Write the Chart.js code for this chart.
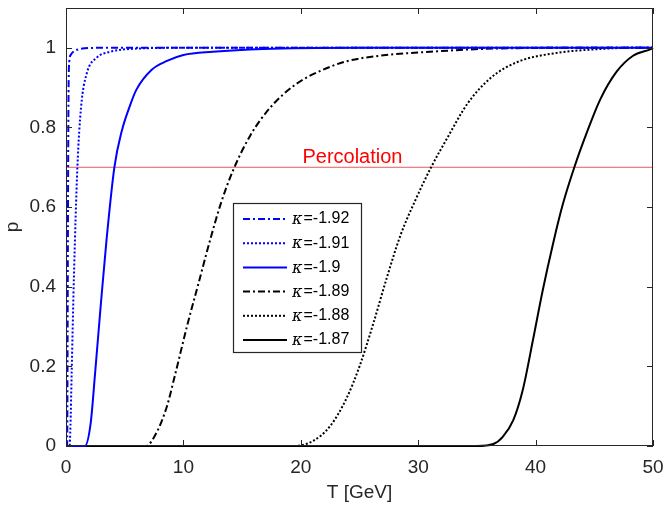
<!DOCTYPE html>
<html>
<head>
<meta charset="utf-8">
<title>Percolation probability</title>
<script src="https://cdn.jsdelivr.net/npm/chart.js@4.4.0/dist/chart.umd.min.js"></script>
<style>
  html, body { margin: 0; padding: 0; background: #ffffff; }
  canvas { display: block; }
</style>
</head>
<body>
<canvas id="percChart" width="667" height="510"></canvas>
<script>
// ── Data ─────────────────────────────────────────────

const kappaLabels = ['-1.92', '-1.91', '-1.9', '-1.89', '-1.88', '-1.87'];

const tK192 = [0, 0.1, 0.13, 0.16, 0.19, 0.22, 0.28, 0.4, 0.62, 1.2, 3, 50];
const pK192 = [0, 0, 0.2, 0.5, 0.75, 0.9, 0.965, 0.982, 0.99, 0.997, 1, 1];

const tK191 = [0, 0.3, 0.38, 0.48, 0.68, 0.97, 1.28, 1.76, 2.6, 3.75, 6, 10, 50];
const pK191 = [0, 0, 0.05, 0.18, 0.43, 0.70, 0.85, 0.935, 0.975, 0.99, 0.998, 1, 1];

const tK190 = [0, 1.6, 2.1, 2.47, 2.95, 3.46, 4.12, 4.74, 5.45, 6.0, 7.3, 8.6, 10, 12.5, 16.8, 25, 50];
const pK190 = [0, 0, 0.057, 0.18, 0.35, 0.52, 0.70, 0.79, 0.855, 0.895, 0.945, 0.967, 0.982, 0.99, 0.997, 1, 1];

const tK189 = [0, 6.8, 7.7, 8.6, 9.3, 10.3, 11.3, 12.3, 13.2, 14.2, 15.7, 17.4, 19.65, 21.9, 24, 26.7, 31, 35.3, 42, 50];
const pK189 = [0, 0, 0.033, 0.1, 0.18, 0.30, 0.41, 0.52, 0.61, 0.69, 0.78, 0.85, 0.91, 0.945, 0.967, 0.98, 0.99, 0.997, 1, 1];

const tK188 = [0, 19.3, 21, 22.5, 23.9, 25, 26.2, 27.3, 28.5, 29.8, 31.1, 32.6, 34.2, 36.2, 38.5, 42, 45, 48, 50];
const pK188 = [0, 0, 0.012, 0.05, 0.12, 0.2, 0.31, 0.42, 0.53, 0.62, 0.70, 0.78, 0.86, 0.925, 0.965, 0.988, 0.996, 1, 1];

const tK187 = [0, 35, 36.4, 37.2, 38.1, 38.9, 39.8, 40.6, 41.5, 42.3, 43.3, 44.4, 45.5, 46.9, 48.3, 49.9, 50];
const pK187 = [0, 0, 0.005, 0.023, 0.065, 0.14, 0.27, 0.39, 0.51, 0.605, 0.70, 0.79, 0.87, 0.94, 0.98, 0.998, 1];

const percolationLevel = 0.7;
const percolationText = 'Percolation';
const percolationTextT = 24.4;   // where the label sits along T

const xTicks = [0, 10, 20, 30, 40, 50];
const yTicks = [0, 0.2, 0.4, 0.6, 0.8, 1];

// ── Styles ──────────────────────────────────

const FONT = '"Liberation Sans", Arial, Helvetica, sans-serif';
const AXIS = '#262626';
const BLUE = '#0000ff';
const BLACK = '#000000';
const DASHDOT = [7, 3, 2, 3];
const DOTTED = [2, 2];
const TICK = 6;

function toPoints(ts, ps) {
    return ts.map((t, i) => ({ x: t, y: ps[i] }));
}

function curve(label, ts, ps, color, dash) {
    return {
        label: label,
        data: toPoints(ts, ps),
        borderColor: color,
        borderWidth: 2,
        borderDash: dash,
        pointRadius: 0,
        fill: false,
        cubicInterpolationMode: 'monotone',
        clip: false
    };
}

// ── Custom drawing: MATLAB-like box, ticks, legend, label ──

const matlabDecor = {
    id: 'matlabDecor',
    afterDraw(chart) {
        const { ctx, chartArea: a, scales: { x, y } } = chart;
        ctx.save();

        // Box and inward ticks
        ctx.strokeStyle = AXIS;
        ctx.lineWidth = 1;
        ctx.setLineDash([]);
        ctx.beginPath();
        x.ticks.forEach(t => {
            const px = Math.round(x.getPixelForValue(t.value)) + 0.5;
            ctx.moveTo(px, a.bottom); ctx.lineTo(px, a.bottom - TICK);
            ctx.moveTo(px, a.top); ctx.lineTo(px, a.top + TICK);
        });
        y.ticks.forEach(t => {
            const py = Math.round(y.getPixelForValue(t.value)) + 0.5;
            ctx.moveTo(a.left, py); ctx.lineTo(a.left + TICK, py);
            ctx.moveTo(a.right, py); ctx.lineTo(a.right - TICK, py);
        });
        ctx.stroke();
        ctx.strokeRect(a.left + 0.5, a.top + 0.5, a.right - a.left - 1, a.bottom - a.top - 1);

        // Percolation label
        ctx.fillStyle = '#ff0000';
        ctx.font = '20px ' + FONT;
        ctx.textAlign = 'center';
        ctx.textBaseline = 'alphabetic';
        ctx.fillText(percolationText, x.getPixelForValue(percolationTextT),
            y.getPixelForValue(percolationLevel) - 4.5);

        // Legend box
        const box = { left: 233.5, top: 203.5, right: 361.5, bottom: 352.5 };
        ctx.fillStyle = '#ffffff';
        ctx.fillRect(box.left, box.top, box.right - box.left, box.bottom - box.top);
        ctx.strokeStyle = AXIS;
        ctx.lineWidth = 1.2;
        ctx.strokeRect(box.left, box.top, box.right - box.left, box.bottom - box.top);

        const curves = chart.data.datasets.filter(d => d.label !== percolationText);
        curves.forEach((d, i) => {
            const rowY = 219 + i * 24.2;
            ctx.strokeStyle = d.borderColor;
            ctx.lineWidth = d.borderWidth;
            ctx.setLineDash(d.borderDash || []);
            ctx.beginPath();
            ctx.moveTo(243, rowY);
            ctx.lineTo(287, rowY);
            ctx.stroke();
            ctx.setLineDash([]);

            ctx.fillStyle = BLACK;
            ctx.textAlign = 'left';
            ctx.textBaseline = 'middle';
            ctx.font = 'italic 16px "DejaVu Serif", serif';
            ctx.fillText('\u03BA', 292, rowY + 1);
            const kw = ctx.measureText('\u03BA').width;
            ctx.font = '16px ' + FONT;
            ctx.fillText('=' + d.label, 292 + kw + 1, rowY);
        });

        ctx.restore();
    }
};

// ── Chart ───────────────────────────────────

const datasets = [
    curve(kappaLabels[0], tK192, pK192, BLUE, DASHDOT),
    curve(kappaLabels[1], tK191, pK191, BLUE, DOTTED),
    curve(kappaLabels[2], tK190, pK190, BLUE, []),
    curve(kappaLabels[3], tK189, pK189, BLACK, DASHDOT),
    curve(kappaLabels[4], tK188, pK188, BLACK, DOTTED),
    curve(kappaLabels[5], tK187, pK187, BLACK, []),
    {
        label: percolationText,
        data: [{ x: xTicks[0], y: percolationLevel }, { x: xTicks[xTicks.length - 1], y: percolationLevel }],
        borderColor: '#e85a5a',
        borderWidth: 1,
        pointRadius: 0,
        fill: false,
        order: 10
    }
];

new Chart(document.getElementById('percChart'), {
    type: 'line',
    data: { datasets: datasets },
    options: {
        responsive: false,
        animation: false,
        layout: { padding: { top: 8, right: 14, left: 0, bottom: 0 } },
        plugins: {
            legend: { display: false },
            tooltip: { enabled: false }
        },
        scales: {
            x: {
                type: 'linear',
                min: xTicks[0],
                max: xTicks[xTicks.length - 1],
                afterBuildTicks: s => { s.ticks = xTicks.map(v => ({ value: v })); },
                afterFit: s => {
                    s.height = 64;
                    s.paddingLeft = 0;
                    s.paddingRight = 0;
                },
                grid: { display: false, drawTicks: false },
                border: { display: false },
                ticks: {
                    color: AXIS,
                    padding: 10,
                    maxRotation: 0,
                    font: { family: FONT, size: 19 }
                },
                title: {
                    display: true,
                    text: 'T [GeV]',
                    color: AXIS,
                    font: { family: FONT, size: 19 },
                    padding: { top: 0, bottom: 6 }
                }
            },
            y: {
                type: 'linear',
                min: 0,
                max: 1.1,
                afterBuildTicks: s => { s.ticks = yTicks.map(v => ({ value: v })); },
                afterFit: s => {
                    s.width = 66;
                    s.paddingTop = 0;
                    s.paddingBottom = 0;
                },
                grid: { display: false, drawTicks: false },
                border: { display: false },
                ticks: {
                    color: AXIS,
                    padding: 10,
                    font: { family: FONT, size: 19 },
                    callback: v => String(Math.round(v * 10) / 10)
                },
                title: {
                    display: true,
                    text: 'p',
                    color: AXIS,
                    font: { family: FONT, size: 19 },
                    padding: { top: 1, bottom: 0 }
                }
            }
        }
    },
    plugins: [matlabDecor]
});
</script>
</body>
</html>
